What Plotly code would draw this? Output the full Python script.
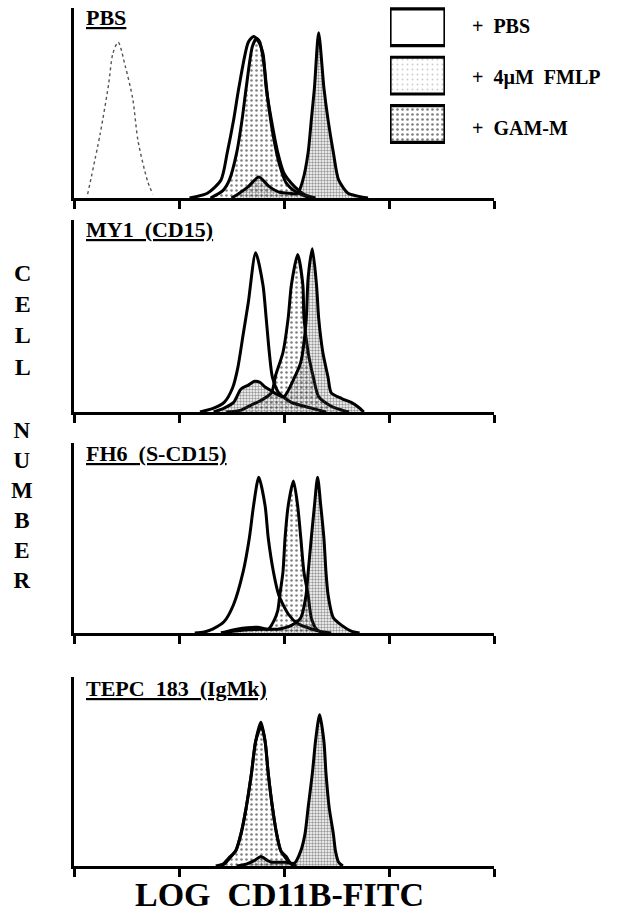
import plotly.graph_objects as go

# ---------------- data (x in log10 decades of CD11B-FITC, y = cell number, % of axis height) ----
panel_names = ["PBS", "MY1  (CD15)", "FH6  (S-CD15)", "TEPC  183  (IgMk)"]
legend_labels = ["+  PBS", "+  4\u00b5M  FMLP", "+  GAM-M"]

# negative control (dashed), panel 1 only
neg_x = [0.13, 0.25, 0.33, 0.37, 0.42, 0.49, 0.56, 0.61, 0.70, 0.75]
neg_y = [2, 34, 60, 76, 82, 69, 52, 30, 9, 2]

# Panel 1: PBS
p1_pbs_x = [1.10, 1.27, 1.40, 1.46, 1.52, 1.57, 1.66, 1.71, 1.75, 1.80, 1.83, 1.88, 1.94, 2.00, 2.10, 2.19, 2.30]
p1_pbs_y = [0, 2.5, 9.5, 24, 41, 58, 82, 85, 83, 76, 58, 41, 24, 13, 6, 2, 0]
p1_gam_x = [1.30, 1.42, 1.48, 1.55, 1.60, 1.64, 1.70, 1.74, 1.77, 1.81, 1.85, 1.90, 1.96, 2.02, 2.12, 2.25]
p1_gam_y = [0, 4, 9.5, 24, 41, 58, 80, 84, 82, 70, 50, 32, 17, 8, 3, 0]
p1_fml_x = [1.50, 1.56, 1.66, 1.76, 1.86, 1.96, 2.05, 2.13, 2.18, 2.23, 2.26, 2.29, 2.33, 2.38, 2.42, 2.47, 2.52, 2.61, 2.70, 2.80]
p1_fml_y = [0, 2, 6, 11, 6, 3, 2.5, 2.5, 9.5, 24, 41, 58, 87, 58, 41, 24, 9.5, 2.5, 1, 0]

# Panel 2: MY1 (CD15)
p2_pbs_x = [1.20, 1.33, 1.43, 1.51, 1.56, 1.61, 1.66, 1.73, 1.80, 1.83, 1.86, 1.89, 1.95, 2.07, 2.26, 2.40]
p2_pbs_y = [0, 2, 5, 12.5, 23, 40, 57, 83, 66, 49, 31, 18, 10, 5, 2, 0]
p2_gam_x = [1.45, 1.59, 1.70, 1.78, 1.88, 1.92, 1.99, 2.04, 2.07, 2.13, 2.18, 2.19, 2.23, 2.28, 2.33, 2.45, 2.55, 2.62]
p2_gam_y = [0, 1, 4, 6, 10, 19, 31, 49, 66, 82, 66, 49, 31, 18, 8, 3, 1, 0]
p2_fml_x = [1.33, 1.43, 1.52, 1.59, 1.66, 1.72, 1.77, 1.82, 1.88, 1.94, 2.00, 2.10, 2.16, 2.21, 2.23, 2.27, 2.31, 2.33, 2.37, 2.42, 2.45, 2.55, 2.64, 2.71, 2.76]
p2_fml_y = [0, 2, 5, 12, 14, 16, 15.5, 13, 11, 9, 8, 18, 26, 47, 70, 85, 66, 49, 31, 18, 10, 7, 5, 2.5, 0]

# Panel 3: FH6 (S-CD15)
p3_pbs_x = [1.15, 1.24, 1.32, 1.43, 1.52, 1.61, 1.67, 1.71, 1.76, 1.82, 1.85, 1.90, 1.95, 2.04, 2.13, 2.33, 2.45]
p3_pbs_y = [0, 0.5, 2, 6, 15, 32, 50, 67, 82, 67, 50, 32, 20, 10, 5, 1, 0]
p3_gam_x = [1.40, 1.55, 1.75, 1.85, 1.90, 1.94, 1.96, 1.99, 2.01, 2.04, 2.09, 2.13, 2.16, 2.19, 2.23, 2.26, 2.31, 2.38]
p3_gam_y = [0, 2, 3, 2, 6, 11.6, 20, 32, 50, 67, 80, 67, 50, 32, 20, 8, 2, 0]
p3_fml_x = [1.40, 1.60, 1.80, 1.94, 2.07, 2.16, 2.21, 2.23, 2.26, 2.29, 2.32, 2.35, 2.38, 2.40, 2.42, 2.47, 2.55, 2.64, 2.72]
p3_fml_y = [0, 1.5, 2, 2, 4, 8, 20, 32, 50, 67, 82, 67, 50, 32, 20, 8, 4, 1, 0]

# Panel 4: TEPC 183 (IgMk)
p4_pbs_x = [1.35, 1.42, 1.47, 1.54, 1.59, 1.64, 1.69, 1.73, 1.78, 1.82, 1.85, 1.89, 1.93, 1.97, 2.02, 2.07, 2.12]
p4_pbs_y = [0, 1, 4, 8, 17, 31, 49, 66, 76, 66, 49, 31, 17, 8, 5, 1, 0]
p4_gam_x = [1.37, 1.43, 1.48, 1.54, 1.59, 1.64, 1.69, 1.73, 1.785, 1.82, 1.85, 1.89, 1.93, 1.97, 2.02, 2.07, 2.11]
p4_gam_y = [0, 1, 4, 8, 17, 31, 49, 66, 74, 66, 49, 31, 17, 8, 4, 1, 0]
p4_fml_x = [1.55, 1.64, 1.72, 1.78, 1.84, 1.88, 1.95, 2.02, 2.10, 2.16, 2.20, 2.23, 2.27, 2.30, 2.33, 2.34, 2.38, 2.40, 2.43, 2.47, 2.49, 2.52, 2.56]
p4_fml_y = [0, 1, 3, 5, 3, 2, 2, 2, 1.5, 8, 17, 31, 49, 66, 78, 80, 66, 49, 31, 17, 8, 2, 0]

panels = [
    (p1_pbs_x, p1_pbs_y, p1_gam_x, p1_gam_y, p1_fml_x, p1_fml_y),
    (p2_pbs_x, p2_pbs_y, p2_gam_x, p2_gam_y, p2_fml_x, p2_fml_y),
    (p3_pbs_x, p3_pbs_y, p3_gam_x, p3_gam_y, p3_fml_x, p3_fml_y),
    (p4_pbs_x, p4_pbs_y, p4_gam_x, p4_gam_y, p4_fml_x, p4_fml_y),
]

# ---------------- layout constants (pixels) ----------------
W, H = 628, 921
X0, X1 = 74, 494
panel_px = [(8, 198), (220, 412), (443, 633), (677, 866)]
FONT = "Liberation Serif, Times New Roman, serif"

def py(p):
    return 1 - p / H

GAM_PATTERN = dict(shape=".", fgcolor="black", bgcolor="rgba(0,0,0,0)", size=5, solidity=0.2)
FML_PATTERN = dict(shape=".", fgcolor="#333", bgcolor="rgba(0,0,0,0)", size=3, solidity=0.5)
LINE = dict(color="black", width=3, shape="spline", smoothing=0.7)

fig = go.Figure()
layout = {}
for i, (top, bot) in enumerate(panel_px):
    n = "" if i == 0 else str(i + 1)
    xa, ya = "x" + n, "y" + n
    pbx, pby, gx, gy, fx, fy = panels[i]
    fig.add_trace(go.Scatter(x=pbx, y=pby, xaxis=xa, yaxis=ya, mode="lines", fill="tozeroy",
                             fillcolor="white", line=LINE, showlegend=False, hoverinfo="skip"))
    fig.add_trace(go.Scatter(x=gx, y=gy, xaxis=xa, yaxis=ya, mode="lines", fill="tozeroy",
                             fillpattern=GAM_PATTERN, fillcolor="rgba(0,0,0,0)",
                             line=LINE, showlegend=False, hoverinfo="skip"))
    fig.add_trace(go.Scatter(x=fx, y=fy, xaxis=xa, yaxis=ya, mode="lines", fill="tozeroy",
                             fillpattern=FML_PATTERN, fillcolor="rgba(0,0,0,0)",
                             line=LINE, showlegend=False, hoverinfo="skip"))
    if i == 0:
        fig.add_trace(go.Scatter(x=neg_x, y=neg_y, xaxis=xa, yaxis=ya, mode="lines",
                                 line=dict(color="#555", width=1.4, dash="dot", shape="spline", smoothing=0.8),
                                 showlegend=False, hoverinfo="skip"))
    layout["xaxis" + n] = dict(domain=[X0 / W, X1 / W], range=[0, 4], anchor=ya,
                               showgrid=False, zeroline=False, showline=True, linecolor="black",
                               linewidth=2.8, ticks="outside", tickvals=[0, 1, 2, 3, 4],
                               ticklen=8, tickwidth=2.8, tickcolor="black", showticklabels=False,
                               fixedrange=True)
    layout["yaxis" + n] = dict(domain=[py(bot), py(top)], range=[0, 100], anchor=xa,
                               showgrid=False, zeroline=False, showline=True, linecolor="black",
                               linewidth=2.6, ticks="", showticklabels=False, fixedrange=True)

# legend swatches on an overlay axis
LX0, LX1, LY0, LY1 = 390, 445, 7, 152
layout["xaxis5"] = dict(domain=[LX0 / W, LX1 / W], range=[0, 1], anchor="y5", visible=False, fixedrange=True)
layout["yaxis5"] = dict(domain=[py(LY1), py(LY0)], range=[3, 0], anchor="x5", visible=False, fixedrange=True)
sw_patterns = [None,
               dict(shape=".", fgcolor="#999", bgcolor="white", size=5, solidity=0.12),
               dict(shape=".", fgcolor="black", bgcolor="white", size=5, solidity=0.22)]
for k in range(3):
    a, b = k + 0.04, k + 0.8
    kw = dict(fillcolor="white") if sw_patterns[k] is None else dict(fillpattern=sw_patterns[k])
    fig.add_trace(go.Scatter(x=[0, 1, 1, 0, 0], y=[a, a, b, b, a], xaxis="x5", yaxis="y5",
                             mode="lines", fill="toself", line=dict(color="black", width=3.2),
                             showlegend=False, hoverinfo="skip", **kw))

annotations = []
label_px = [17, 229, 453, 688]
for i, name in enumerate(panel_names):
    annotations.append(dict(text="<b><u>" + name + "</u></b>", x=(X0 + 10) / W, y=py(label_px[i]),
                            xref="paper", yref="paper", xanchor="left", yanchor="middle",
                            showarrow=False, font=dict(family=FONT, size=22, color="black")))
leg_py = [26, 77, 128]
for k, lab in enumerate(legend_labels):
    annotations.append(dict(text="<b>" + lab + "</b>", x=470 / W, y=py(leg_py[k]),
                            xref="paper", yref="paper", xanchor="left", yanchor="middle",
                            showarrow=False, font=dict(family=FONT, size=20, color="black")))
annotations.append(dict(text="<b>C<br>E<br>L<br>L</b>", x=22 / W, y=py(320), xref="paper", yref="paper",
                        xanchor="center", yanchor="middle", showarrow=False,
                        font=dict(family=FONT, size=24, color="black")))
annotations.append(dict(text="<b>N<br>U<br>M<br>B<br>E<br>R</b>", x=22 / W, y=py(505), xref="paper",
                        yref="paper", xanchor="center", yanchor="middle", showarrow=False,
                        font=dict(family=FONT, size=23, color="black")))
annotations.append(dict(text="<b>LOG  CD11B-FITC</b>", x=279 / W, y=py(894), xref="paper", yref="paper",
                        xanchor="center", yanchor="middle", showarrow=False,
                        font=dict(family=FONT, size=34, color="black")))

fig.update_layout(width=W, height=H, margin=dict(l=0, r=0, t=0, b=0), paper_bgcolor="white",
                  plot_bgcolor="rgba(0,0,0,0)", showlegend=False, annotations=annotations, **layout)
fig.write_html("out.html", config={"displayModeBar": False},
               post_script="document.body.style.margin='0px';")
